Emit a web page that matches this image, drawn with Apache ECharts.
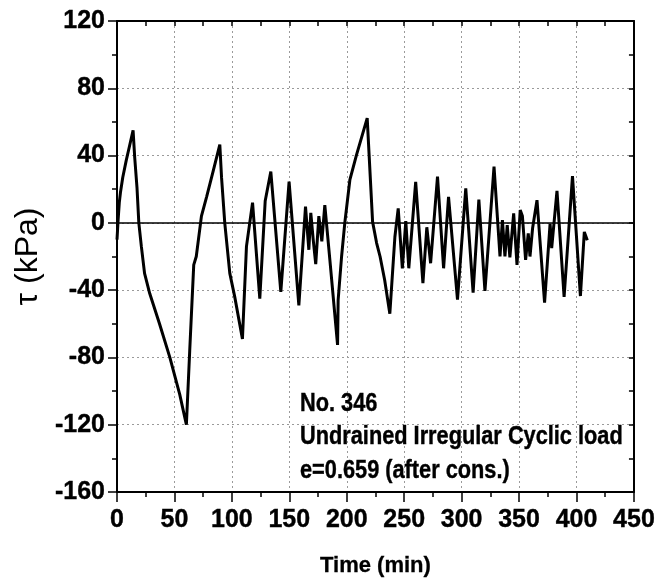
<!DOCTYPE html>
<html>
<head>
<meta charset="utf-8">
<script src="https://cdn.jsdelivr.net/npm/echarts@6/dist/echarts.min.js"></script>
<style>
html,body{margin:0;padding:0;background:#fff;}
#c{width:658px;height:585px;}
</style>
</head>
<body>
<div id="c"></div>
<script>
// Time (min)
var timeMin = [0,1,2,3,5,8,11,14,15.4,17.4,19,21.2,24,28.5,37,46,54.6,60.4,
  63.3,66.8,69,73.5,78,83.6,89.5,91,93.8,98.2,102.5,109.2,
  112.7,118,124.3,129,133.9,142.6,149.8,158.3,
  164.1,167,168.7,170.8,173,175.7,178.3,180.9,185.3,192,
  192.5,195.5,198.3,202.7,208.5,217.8,
  222.5,226,229,233,237.5,
  241.9,244.8,248.4,251.4,254,260,266.3,269.7,273,279,284.3,288.6,296.4,303.6,310,315,320.3,328.2,
  333.4,335.5,337.7,339.7,342,345.3,348.2,351,352.9,355.7,358,359.5,361.8,365.6,372.2,
  377,378.4,383,389.2,396.5,403.4,406.8,409.4];
// Shear stress tau (kPa)
var tauKPa = [-10,2,12,18,27,37,46,55,39,21,0,-14,-30,-42,-60,-80,-102,-120,
  -76,-25,-20,4,15.5,30.5,46.5,27,0,-30,-44,-69,
  -14,12,-45,13,30.5,-41,24.5,-49,
  9.6,-16,6,-10,-24.5,4,-11,10.6,-22,-72.6,
  -46,-20,0,25.5,40.4,62.3,
  0.6,-12,-20,-34,-54,
  -8.4,8.6,-27,1,-27,24.3,-35.8,-2.6,-24,27.5,-27,15.5,-45.7,20.5,-41.5,13.8,-40.5,33.4,
  -20,1.6,-20,-1.4,-20.5,5.6,-25,7.6,4,-22,-6.3,-20,-3,13.5,-47.5,
  -0.5,-15,19,-44,27.8,-43.5,-5.4,-10.3];
var xTicks = [0,50,100,150,200,250,300,350,400,450];
var yTicks = [-160,-120,-80,-40,0,40,80,120];
var annotation = ['No. 346','Undrained Irregular Cyclic load','e=0.659 (after cons.)'];

var pts = timeMin.map(function(t,i){return [t,tauKPa[i]];});
var FONT = "'Liberation Sans', Arial, sans-serif";
var chart = echarts.init(document.getElementById('c'));
var grid = {left:117, right:23, top:21, bottom:93};
chart.setOption({
  animation:false,
  backgroundColor:'#fff',
  grid:grid,
  xAxis:[{
    type:'value', min:xTicks[0], max:xTicks[xTicks.length-1], interval:50,
    axisLine:{onZero:false, lineStyle:{color:'#000', width:2}},
    axisTick:{inside:false, length:10, lineStyle:{color:'#000', width:1.5}},
    minorTick:{show:true, splitNumber:2, length:5, lineStyle:{color:'#000', width:1.5}},
    axisLabel:{color:'#000', fontSize:25, fontWeight:'bold', fontFamily:FONT, margin:16,
      textBorderColor:'#000', textBorderWidth:0.4},
    splitLine:{show:true, lineStyle:{color:'#9a9a9a', type:[2,3], width:1}},
    name:'Time (min)', nameLocation:'middle', nameGap:63,
    nameTextStyle:{color:'#000', fontSize:22, fontWeight:'bold', fontFamily:FONT,
      textBorderColor:'#000', textBorderWidth:0.3}
  },{
    type:'value', position:'top', min:0, max:450, interval:25,
    axisLine:{onZero:false, lineStyle:{color:'#000', width:2}},
    axisTick:{inside:true, length:5, lineStyle:{color:'#000', width:1.5}},
    axisLabel:{show:false}, splitLine:{show:false}
  }],
  yAxis:[{
    type:'value', min:yTicks[0], max:yTicks[yTicks.length-1], interval:40,
    axisLine:{onZero:false, lineStyle:{color:'#000', width:2}},
    axisTick:{inside:false, length:9, lineStyle:{color:'#000', width:1.5}},
    minorTick:{show:true, splitNumber:2, length:5, lineStyle:{color:'#000', width:1.5}},
    axisLabel:{color:'#000', fontSize:25, fontWeight:'bold', fontFamily:FONT, margin:12,
      textBorderColor:'#000', textBorderWidth:0.4},
    splitLine:{show:true, lineStyle:{color:'#9a9a9a', type:[2,3], width:1}},
    name:'\u03c4 (kPa)', nameLocation:'middle', nameGap:72, nameRotate:90,
    nameTextStyle:{color:'#000', fontSize:32, fontWeight:'normal', fontFamily:FONT}
  },{
    type:'value', position:'right', min:-160, max:120, interval:20,
    axisLine:{onZero:false, lineStyle:{color:'#000', width:2}},
    axisTick:{inside:true, length:5, lineStyle:{color:'#000', width:1.5}},
    axisLabel:{show:false}, splitLine:{show:false}
  }],
  series:[{
    type:'line', data:pts, showSymbol:false, symbol:'none',
    lineStyle:{color:'#000', width:3}, z:5,
    markLine:{silent:true, symbol:'none', label:{show:false},
      lineStyle:{color:'#000', type:'solid', width:1.5},
      data:[{yAxis:0}]}
  }],
  graphic:annotation.map(function(s,i){
    return {type:'text', x:300, y:404 + i*33.5, scaleX:0.87, z:10,
      style:{x:0, y:0, text:s, fill:'#000', font:'bold 25px ' + FONT, textVerticalAlign:'middle', textAlign:'left',
        stroke:'#000', lineWidth:0.4}};
  })
});
</script>
</body>
</html>
